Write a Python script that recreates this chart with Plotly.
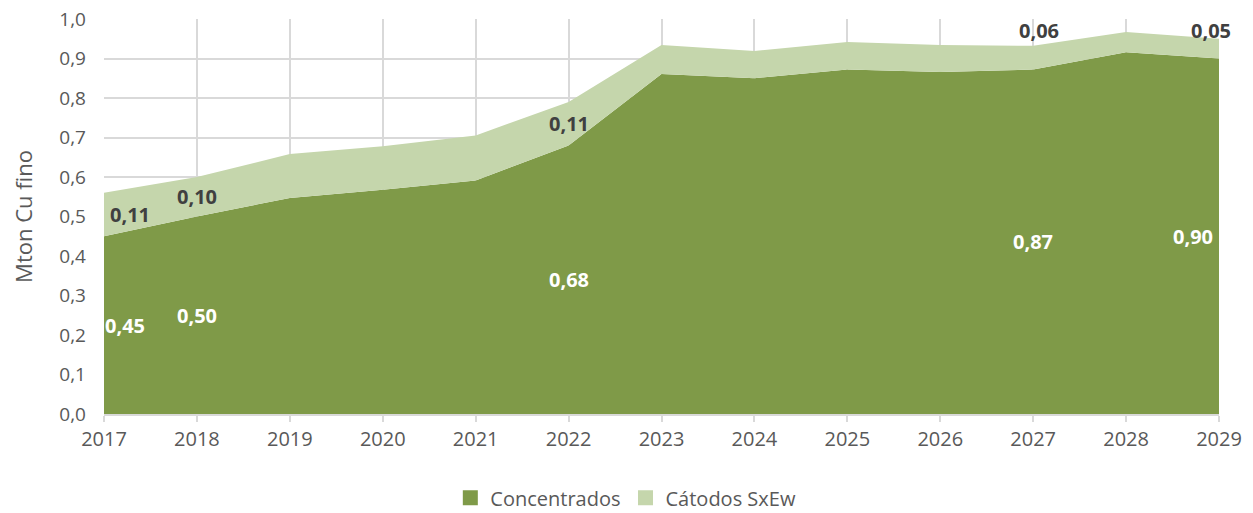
import plotly.graph_objects as go

years = [2017, 2018, 2019, 2020, 2021, 2022, 2023, 2024, 2025, 2026, 2027, 2028, 2029]
concentrados = [0.45, 0.50, 0.547, 0.568, 0.591, 0.68, 0.861, 0.85, 0.872, 0.866, 0.872, 0.916, 0.90]
catodos = [0.11, 0.10, 0.111, 0.110, 0.114, 0.11, 0.073, 0.069, 0.07, 0.068, 0.06, 0.051, 0.05]
yticks = [round(i * 0.1, 1) for i in range(11)]
ytick_text = [f"{v:.1f}".replace(".", ",") for v in yticks]

# (year index, xshift) for Concentrados labels (placed mid-band)
conc_labels = [(0, 21), (1, 0), (5, 0), (10, 0), (12, -26)]
# (year index, xshift, placement, yshift) for Cátodos labels
cat_labels = [(0, 26, "mid", 0), (1, 0, "mid", 0), (5, 0, "mid", 0),
              (10, 6, "above", 15), (12, -8, "above", 8)]

C_DARK = "#7f9a48"
C_LIGHT = "#c5d6ac"
FONT = "Open Sans"

fig = go.Figure()
fig.add_trace(go.Scatter(x=years, y=concentrados, name="Concentrados", mode="lines",
                         stackgroup="one", line=dict(width=0, color=C_DARK),
                         fillcolor=C_DARK, showlegend=False))
fig.add_trace(go.Scatter(x=years, y=catodos, name="Cátodos SxEw", mode="lines",
                         stackgroup="one", line=dict(width=0, color=C_LIGHT),
                         fillcolor=C_LIGHT, showlegend=False))
# legend entries with square swatches
fig.add_trace(go.Scatter(x=[None], y=[None], mode="markers", name="Concentrados",
                         marker=dict(symbol="square", size=15, color=C_DARK)))
fig.add_trace(go.Scatter(x=[None], y=[None], mode="markers", name="Cátodos SxEw",
                         marker=dict(symbol="square", size=15, color=C_LIGHT)))

def fmt(v):
    return f"{v:.2f}".replace(".", ",")

for i, xs in conc_labels:
    fig.add_annotation(x=years[i], y=concentrados[i] / 2, text=f"<b>{fmt(concentrados[i])}</b>",
                       showarrow=False, xshift=xs, font=dict(family=FONT, size=20, color="white"))
for i, xs, place, ys in cat_labels:
    if place == "mid":
        yv = concentrados[i] + catodos[i] / 2
    else:
        yv = concentrados[i] + catodos[i]
    fig.add_annotation(x=years[i], y=yv, text=f"<b>{fmt(catodos[i])}</b>", showarrow=False,
                       xshift=xs, yshift=ys, font=dict(family=FONT, size=20, color="#404040"))

fig.update_layout(
    width=1245, height=505,
    margin=dict(l=96, r=34, t=11, b=99),
    plot_bgcolor="white", paper_bgcolor="white",
    font=dict(family=FONT, size=20, color="#595959"),
    showlegend=True,
    legend=dict(orientation="h", x=0.468, xanchor="center", yref="container",
                y=0.03, yanchor="middle",
                font=dict(family=FONT, size=20, color="#595959"), traceorder="normal",
                itemwidth=30),
    xaxis=dict(range=[2017, 2029], tickmode="array", tickvals=years,
               ticktext=[str(y) for y in years], showgrid=True, gridcolor="#d9d9d9",
               gridwidth=2, ticks="outside", ticklen=6, tickwidth=2, tickcolor="#d9d9d9",
               showline=True, linecolor="#d9d9d9", linewidth=2, zeroline=False,
               automargin=False, ticklabeloverflow="allow",
               tickfont=dict(family=FONT, size=20, color="#595959")),
    yaxis=dict(range=[0, 1.0], tickmode="array", tickvals=yticks, ticktext=ytick_text,
               showgrid=True, gridcolor="#d9d9d9", gridwidth=2, zeroline=False,
               showline=False, ticks="", ticklabelstandoff=17, automargin=False,
               ticklabeloverflow="allow",
               tickfont=dict(family=FONT, size=19, color="#595959"),
               title=dict(text="Mton Cu fino", font=dict(family=FONT, size=22, color="#595959"),
                          standoff=29)),
)

fig.write_html("out.html")
